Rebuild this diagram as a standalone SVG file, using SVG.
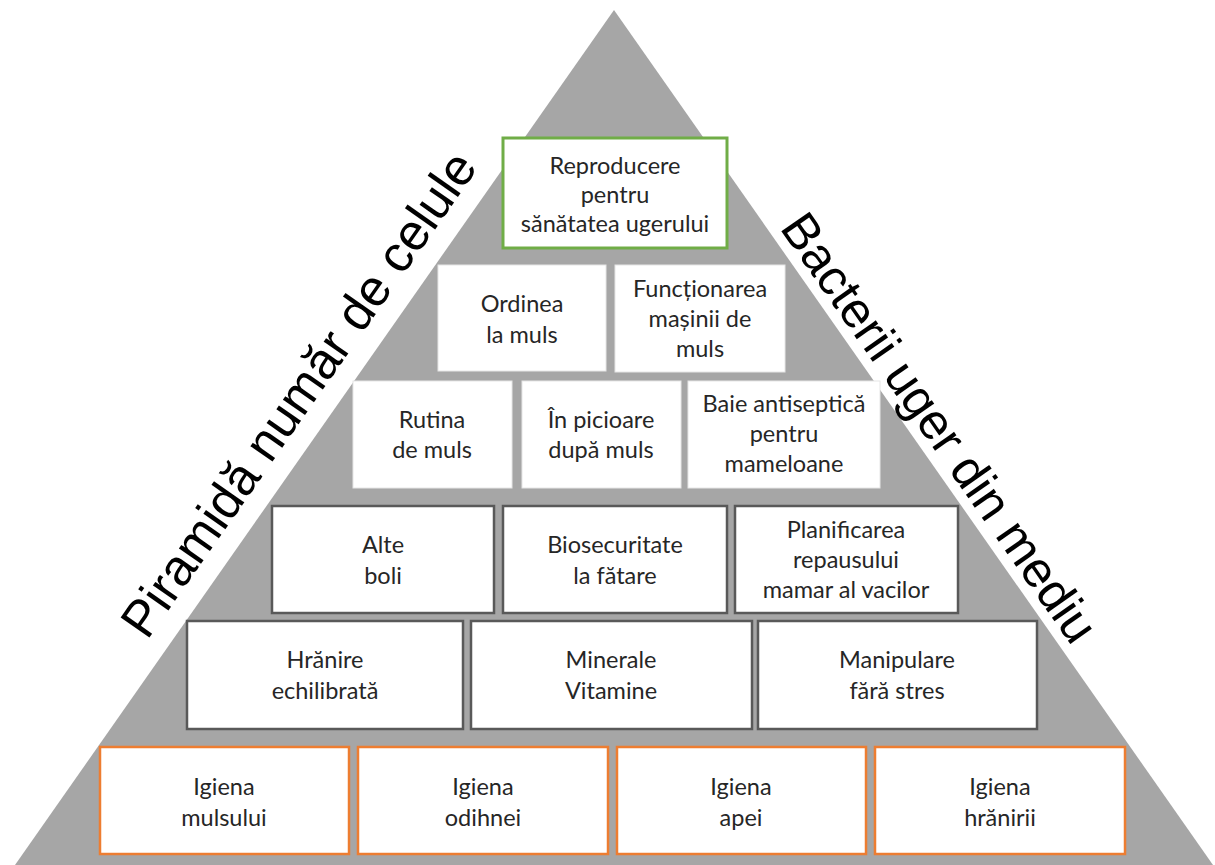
<svg xmlns="http://www.w3.org/2000/svg" width="1215" height="865" viewBox="0 0 1215 865">
<style>
.box{fill:#ffffff}
.g{stroke:#70ad47;stroke-width:3}
.w{stroke:#e6e6e6;stroke-width:1}
.d{stroke:#595959;stroke-width:2.5}
.o{stroke:#ed7d31;stroke-width:2.5}
.t{font-family:Lato,"Open Sans",sans-serif;font-size:23.5px;fill:#262626;text-anchor:middle}
.side{font-family:"Liberation Sans",Arial,sans-serif;font-size:50px;fill:#000000}
</style>
<rect x="0" y="0" width="1215" height="865" fill="#ffffff"/>
<polygon id="pyramid" points="614,10 1213,865 15,865" fill="#a6a6a6"/>
<g id="connectors"></g>
<text id="label-left" class="side" style="font-size:51px" transform="translate(147,641) rotate(-55)">Piramidă număr de celule</text>
<text id="label-right" class="side" transform="translate(779,228) rotate(55)">Bacterii uger din mediu</text>

<g id="n-reproducere"><rect class="box g" x="503" y="138" width="224" height="110"/>
<text class="t" x="615" y="174">Reproducere</text><text class="t" x="615" y="203">pentru</text><text class="t" x="615" y="232">sănătatea ugerului</text></g>

<g id="n-ordinea"><rect class="box w" x="438" y="265" width="168" height="106"/>
<text class="t" x="522" y="312">Ordinea</text><text class="t" x="522" y="343">la muls</text></g>
<g id="n-functionarea"><rect class="box w" x="615" y="265" width="170" height="107"/>
<text class="t" x="700" y="297">Funcționarea</text><text class="t" x="700" y="327">mașinii de</text><text class="t" x="700" y="357">muls</text></g>

<g id="n-rutina"><rect class="box w" x="353" y="381" width="159" height="107"/>
<text class="t" x="432" y="428">Rutina</text><text class="t" x="432" y="458">de muls</text></g>
<g id="n-picioare"><rect class="box w" x="522" y="381" width="159" height="107"/>
<text class="t" x="601" y="428">În picioare</text><text class="t" x="601" y="458">după muls</text></g>
<g id="n-baie"><rect class="box w" x="688" y="381" width="192" height="107"/>
<text class="t" x="784" y="412">Baie antiseptică</text><text class="t" x="784" y="442">pentru</text><text class="t" x="784" y="472">mameloane</text></g>

<g id="n-alte"><rect class="box d" x="272" y="506" width="222" height="107"/>
<text class="t" x="383" y="553">Alte</text><text class="t" x="383" y="584">boli</text></g>
<g id="n-biosecuritate"><rect class="box d" x="503" y="506" width="224" height="107"/>
<text class="t" x="615" y="553">Biosecuritate</text><text class="t" x="615" y="584">la fătare</text></g>
<g id="n-planificarea"><rect class="box d" x="735" y="506" width="223" height="107"/>
<text class="t" x="846" y="538">Planificarea</text><text class="t" x="846" y="568">repausului</text><text class="t" x="846" y="598">mamar al vacilor</text></g>

<g id="n-hranire"><rect class="box d" x="187" y="621" width="276" height="108"/>
<text class="t" x="325" y="668">Hrănire</text><text class="t" x="325" y="699">echilibrată</text></g>
<g id="n-minerale"><rect class="box d" x="471" y="621" width="281" height="108"/>
<text class="t" x="611" y="668">Minerale</text><text class="t" x="611" y="699">Vitamine</text></g>
<g id="n-manipulare"><rect class="box d" x="758" y="621" width="279" height="108"/>
<text class="t" x="897" y="668">Manipulare</text><text class="t" x="897" y="699">fără stres</text></g>

<g id="n-igiena-mulsului"><rect class="box o" x="100" y="747" width="249" height="107"/>
<text class="t" x="224" y="795">Igiena</text><text class="t" x="224" y="826">mulsului</text></g>
<g id="n-igiena-odihnei"><rect class="box o" x="358" y="747" width="250" height="107"/>
<text class="t" x="483" y="795">Igiena</text><text class="t" x="483" y="826">odihnei</text></g>
<g id="n-igiena-apei"><rect class="box o" x="617" y="747" width="249" height="107"/>
<text class="t" x="741" y="795">Igiena</text><text class="t" x="741" y="826">apei</text></g>
<g id="n-igiena-hranirii"><rect class="box o" x="875" y="747" width="250" height="107"/>
<text class="t" x="1000" y="795">Igiena</text><text class="t" x="1000" y="826">hrănirii</text></g>
</svg>
